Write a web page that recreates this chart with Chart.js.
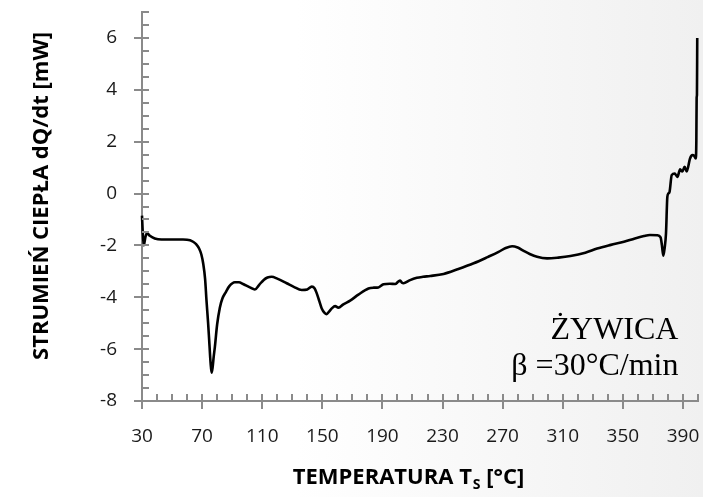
<!DOCTYPE html>
<html>
<head>
<meta charset="utf-8">
<script src="https://cdn.jsdelivr.net/npm/chart.js@4.4.1/dist/chart.umd.min.js"></script>
<style>
    html, body { margin: 0; padding: 0; }
    body {
        width: 703px;
        height: 497px;
        background: linear-gradient(90deg, #ffffff 0%, #ffffff 42%, #f0f0f0 100%);
        overflow: hidden;
    }
    canvas { display: block; }
</style>
</head>
<body>
<canvas id="chart-dsc" width="703" height="497"></canvas>
<script>
// temperatura T_s [°C]
const temperatura = [
    30, 30.5, 31.2, 32.2, 33.3, 35, 38.5, 43, 48.5, 57.3, 62, 64, 66, 68, 69.5, 70.7,
    72, 72.9, 74, 74.7, 75.6, 76.3, 77, 77.7, 78.5, 80, 81.8, 83.5, 85.8, 88, 91.8,
    94.5, 97.3, 101.8, 105.1, 108, 111, 113.5, 116.3, 120, 126.3, 131, 136.3, 140,
    143, 144.8, 146.3, 148, 149.6, 151.5, 152.9, 154.5, 156.3, 158.5, 160.7, 164,
    168.5, 174, 180.7, 184, 187.3, 190.7, 195, 198.5, 200.5, 201.8, 203, 204, 208,
    212.9, 217, 221.8, 230.7, 240, 250.7, 260, 267.3, 272, 276.3, 280, 284, 288,
    292.9, 299.6, 307, 315.1, 325, 332.9, 342, 350.7, 358, 364, 368, 372.9, 375.1,
    376, 376.9, 377.8, 378.7, 379.6, 380.3, 381.1, 382.5, 384.5, 386.3, 388.1,
    389.6, 391.1, 392.5, 394.7, 396.3, 397.5, 398.5, 398.9, 399.1, 399.3, 399.5
];
// strumien ciepla dQ/dt [mW]
const strumien = [
    -0.85, -1.5, -2.0, -1.7, -1.52, -1.62, -1.73, -1.77, -1.77, -1.77, -1.8, -1.86,
    -1.95, -2.12, -2.35, -2.69, -3.3, -4.11, -5.0, -5.65, -6.5, -6.91, -6.7, -6.3,
    -5.91, -5.05, -4.4, -4.05, -3.8, -3.58, -3.42, -3.42, -3.49, -3.62, -3.7, -3.52,
    -3.33, -3.24, -3.21, -3.28, -3.46, -3.6, -3.72, -3.7, -3.59, -3.65, -3.85, -4.15,
    -4.43, -4.6, -4.65, -4.55, -4.43, -4.34, -4.4, -4.27, -4.13, -3.9, -3.66, -3.63,
    -3.62, -3.5, -3.48, -3.49, -3.4, -3.36, -3.44, -3.46, -3.35, -3.25, -3.21, -3.18,
    -3.1, -2.92, -2.69, -2.45, -2.25, -2.1, -2.03, -2.08, -2.21, -2.33, -2.44, -2.5,
    -2.47, -2.41, -2.28, -2.12, -1.98, -1.86, -1.73, -1.64, -1.6, -1.61, -1.69, -2.0,
    -2.4, -2.1, -1.54, -0.13, 0.0, 0.07, 0.71, 0.77, 0.64, 0.93, 0.85, 1.03, 0.85,
    1.35, 1.48, 1.45, 1.35, 2.06, 3.7, 3.8, 6.0
];
const xTicks = [30, 70, 110, 150, 190, 230, 270, 310, 350, 390];
const yTicks = [-8, -6, -4, -2, 0, 2, 4, 6];

const AXIS_COLOR = "#8a8a8a";
Chart.defaults.font.family = "'Open Sans', sans-serif";
Chart.defaults.color = "#1a1a1a";

// ticks (major crossing the axis, minor inside), axis titles and the label
const decorPlugin = {
    id: "decor",
    afterDraw(chart) {
        const ctx = chart.ctx;
        const x = chart.scales.x;
        const y = chart.scales.y;
        const area = chart.chartArea;
        ctx.save();
        ctx.strokeStyle = AXIS_COLOR;
        ctx.lineWidth = 2;
        ctx.beginPath();
        y.ticks.forEach((t) => {
            const py = Math.round(y.getPixelForValue(t.value));
            if (yTicks.includes(t.value)) {
                ctx.moveTo(area.left - 8, py);
                ctx.lineTo(area.left + 7, py);
            } else {
                ctx.moveTo(area.left, py);
                ctx.lineTo(area.left + 7, py);
            }
        });
        x.ticks.forEach((t) => {
            const px = Math.round(x.getPixelForValue(t.value));
            if (xTicks.includes(t.value)) {
                ctx.moveTo(px, area.bottom - 7);
                ctx.lineTo(px, area.bottom + 8);
            } else {
                ctx.moveTo(px, area.bottom - 7);
                ctx.lineTo(px, area.bottom);
            }
        });
        ctx.stroke();

        // y title
        ctx.fillStyle = "#000";
        ctx.font = "bold 22px 'Open Sans'";
        ctx.textAlign = "center";
        ctx.textBaseline = "middle";
        ctx.save();
        ctx.translate(42, 196);
        ctx.rotate(-Math.PI / 2);
        ctx.fillText("STRUMIEŃ CIEPŁA dQ/dt [mW]", 0, 0);
        ctx.restore();

        // x title with subscript
        const f1 = "bold 22px 'Open Sans'";
        const f2 = "bold 14px 'Open Sans'";
        const p1 = "TEMPERATURA T";
        const p2 = "S";
        const p3 = " [°C]";
        ctx.font = f1;
        const w1 = ctx.measureText(p1).width;
        const w3 = ctx.measureText(p3).width;
        ctx.font = f2;
        const w2 = ctx.measureText(p2).width;
        let sx = 408 - (w1 + w2 + w3) / 2;
        const base = 484;
        ctx.textAlign = "left";
        ctx.textBaseline = "alphabetic";
        ctx.font = f1;
        ctx.fillText(p1, sx, base);
        sx += w1;
        ctx.font = f2;
        ctx.fillText(p2, sx + 1, base + 5);
        sx += w2 + 1;
        ctx.font = f1;
        ctx.fillText(p3, sx, base);

        // sample label
        ctx.font = "32px 'Liberation Serif'";
        ctx.textAlign = "right";
        const lx = x.getPixelForValue(387);
        ctx.fillText("ŻYWICA", lx, y.getPixelForValue(-5.6));
        ctx.fillText("β =30°C/min", lx, y.getPixelForValue(-7.0));
        ctx.restore();
    },
};

new Chart(document.getElementById("chart-dsc"), {
    type: "line",
    data: {
        datasets: [
            {
                label: "ŻYWICA",
                data: temperatura.map((t, i) => ({ x: t, y: strumien[i] })),
                borderColor: "#000",
                borderWidth: 2.6,
                pointRadius: 0,
                cubicInterpolationMode: "monotone",
                clip: false,
            },
        ],
    },
    options: {
        responsive: false,
        animation: false,
        layout: { padding: { top: 12, right: 5, left: 0, bottom: 0 } },
        plugins: {
            legend: { display: false },
            tooltip: { enabled: false },
        },
        scales: {
            x: {
                type: "linear",
                min: 30,
                max: 400,
                afterFit: (s) => {
                    s.height = 96;
                    s.paddingLeft = 0;
                    s.paddingRight = 0;
                },
                grid: { display: false, drawTicks: false },
                border: { color: AXIS_COLOR, width: 2 },
                ticks: {
                    stepSize: 10,
                    autoSkip: false,
                    maxRotation: 0,
                    padding: 24,
                    font: { size: 19 },
                    callback: (v) => (xTicks.includes(v) ? String(v) : ""),
                },
            },
            y: {
                min: -8,
                max: 7,
                afterFit: (s) => {
                    s.width = 142;
                    s.paddingTop = 0;
                    s.paddingBottom = 0;
                },
                grid: { display: false, drawTicks: false },
                border: { color: AXIS_COLOR, width: 2 },
                ticks: {
                    stepSize: 0.5,
                    autoSkip: false,
                    padding: 25,
                    font: { size: 19 },
                    callback: (v) => (yTicks.includes(v) ? String(v) : ""),
                },
            },
        },
    },
    plugins: [decorPlugin],
});
</script>
</body>
</html>
